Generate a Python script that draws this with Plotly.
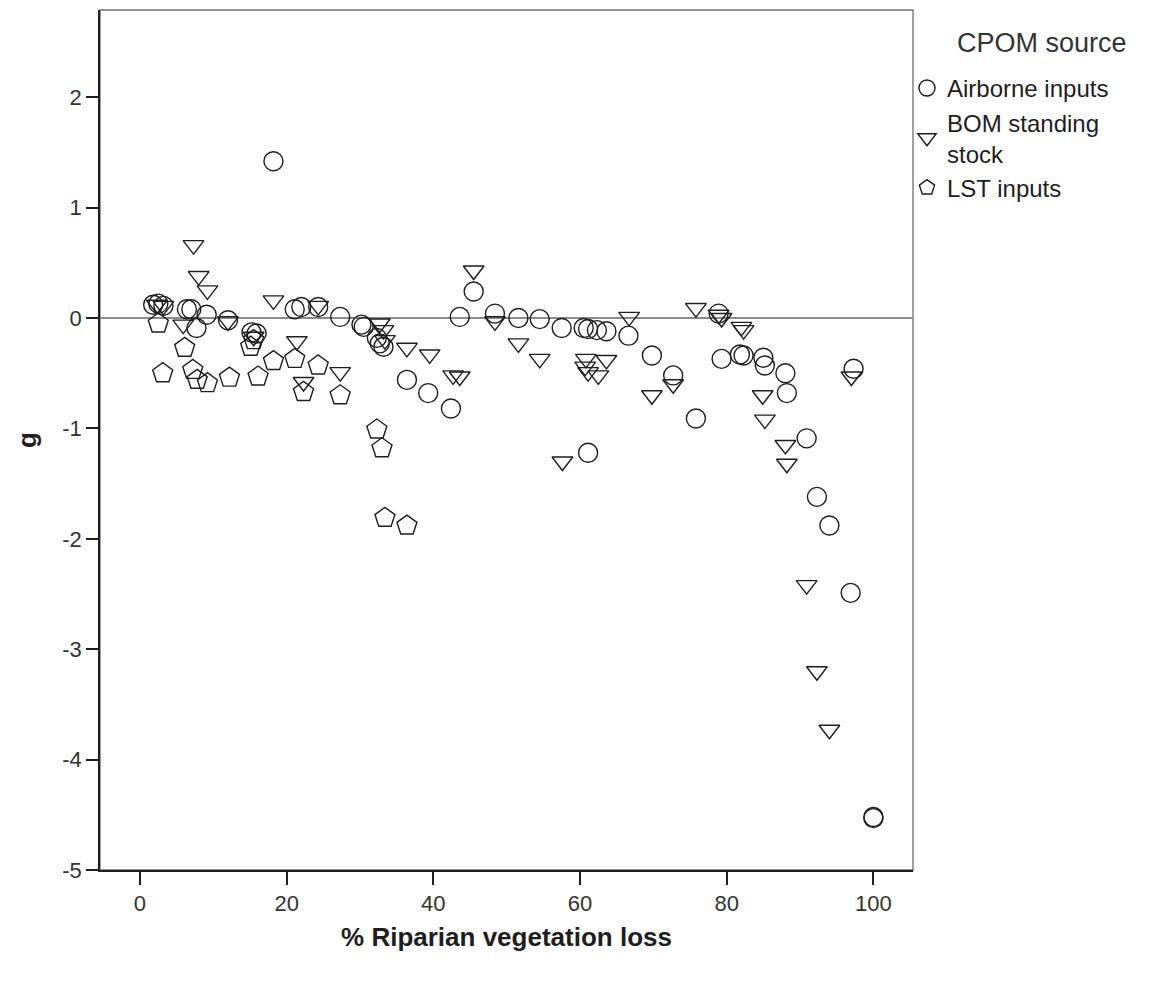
import plotly.graph_objects as go

# ---- data ----
air_x = [1.8, 2.5, 3.2, 6.4, 7.0, 7.7, 9.1, 12.0, 15.2, 15.9, 18.2, 21.1, 22.0, 24.3, 27.3,
         30.2, 30.5, 32.3, 32.7, 33.2, 36.4, 39.3, 42.4, 43.6, 45.5, 48.4, 51.6, 54.5, 57.5,
         60.5, 61.1, 62.3, 63.6, 66.6, 61.1, 69.8, 72.7, 75.8, 78.9, 79.3, 81.8, 82.3, 85.0,
         85.2, 88.0, 88.2, 90.9, 92.3, 94.0, 96.9, 97.3, 100.0, 100.0]
air_y = [0.12, 0.13, 0.11, 0.08, 0.08, -0.09, 0.03, -0.02, -0.13, -0.14, 1.42, 0.08, 0.10, 0.10, 0.01,
         -0.06, -0.08, -0.18, -0.23, -0.26, -0.56, -0.68, -0.82, 0.01, 0.24, 0.04, 0.0, -0.01, -0.09,
         -0.09, -0.10, -0.11, -0.12, -0.16, -1.22, -0.34, -0.52, -0.91, 0.04, -0.37, -0.33, -0.34, -0.36,
         -0.43, -0.50, -0.68, -1.09, -1.62, -1.88, -2.49, -0.46, -4.53, -4.52]

bom_x = [2.3, 3.2, 5.9, 7.3, 8.0, 9.2, 12.0, 15.5, 18.2, 21.4, 22.3, 24.3, 27.3, 32.7, 33.2, 33.4,
         36.4, 39.5, 42.7, 43.6, 45.5, 48.4, 51.6, 54.5, 57.6, 60.8, 60.7, 61.1, 62.5, 63.6, 66.7,
         69.8, 72.7, 75.8, 78.9, 79.3, 82.0, 82.3, 84.9, 85.2, 88.0, 88.2, 90.9, 92.3, 94.0, 97.0]
bom_y = [0.12, 0.11, -0.06, 0.66, 0.38, 0.25, -0.03, -0.17, 0.16, -0.21, -0.58, 0.11, -0.49, -0.05, -0.11, -0.20,
         -0.27, -0.33, -0.52, -0.53, 0.43, -0.03, -0.23, -0.37, -1.30, -0.37, -0.44, -0.49, -0.52, -0.38, 0.01,
         -0.70, -0.60, 0.09, 0.03, 0.0, -0.08, -0.11, -0.70, -0.92, -1.15, -1.32, -2.42, -3.20, -3.73, -0.53]

lst_x = [2.5, 3.1, 6.1, 7.2, 7.8, 9.2, 12.2, 15.1, 15.5, 16.1, 18.2, 21.1, 22.3, 24.3, 27.3,
         32.3, 33.0, 33.4, 36.4]
lst_y = [-0.05, -0.50, -0.27, -0.47, -0.56, -0.59, -0.54, -0.26, -0.20, -0.53, -0.39, -0.37, -0.67, -0.43, -0.70,
         -1.01, -1.18, -1.81, -1.88]

series_names = ["Airborne inputs", "BOM standing<br>stock", "LST inputs"]
legend_title = "CPOM source"
x_ticks = [0, 20, 40, 60, 80, 100]
x_labels = ["0", "20", "40", "60", "80", "100"]
y_ticks = [-5, -4, -3, -2, -1, 0, 1, 2]
y_labels = ["-5", "-4", "-3", "-2", "-1", "0", "1", "2"]

INK = "#1e1e1e"
FONT = "Liberation Sans, Arial, sans-serif"

fig = go.Figure()
fig.add_trace(go.Scatter(x=air_x, y=air_y, mode="markers", name=series_names[0],
                         marker=dict(symbol="circle-open", size=19, color=INK, line=dict(width=1.4))))
fig.add_trace(go.Scatter(x=bom_x, y=bom_y, mode="markers", name=series_names[1],
                         marker=dict(symbol="triangle-down-open", size=18, color=INK, line=dict(width=1.4))))
fig.add_trace(go.Scatter(x=lst_x, y=lst_y, mode="markers", name=series_names[2],
                         marker=dict(symbol="pentagon-open", size=21, color=INK, line=dict(width=1.4))))

fig.add_shape(type="rect", xref="paper", yref="paper", x0=0, x1=1, y0=0, y1=1,
              line=dict(color="#6e6e6e", width=1.3), layer="below")

fig.add_annotation(text=legend_title, xref="paper", yref="paper", x=1.0517, y=0.9616,
                   xanchor="left", yanchor="middle", showarrow=False,
                   font=dict(size=27, color="#333"))

fig.update_layout(
    width=1170, height=981,
    margin=dict(l=92, r=265, t=2, b=119, autoexpand=False),
    paper_bgcolor="white", plot_bgcolor="white",
    font=dict(family=FONT, size=20, color=INK),
    showlegend=True,
    legend=dict(x=0.9926, y=0.935, xanchor="left", yanchor="top",
                font=dict(size=24, color=INK), tracegroupgap=0,
                bgcolor="rgba(0,0,0,0)"),
    xaxis=dict(range=[-5.45, 105.4], tickvals=x_ticks, ticktext=x_labels, ticks="outside", ticklen=13,
               tickwidth=1.5, tickcolor=INK, showline=True, linecolor=INK, linewidth=1.5,
               showgrid=False, zeroline=False,
               tickfont=dict(size=22, color="#333"),
               title=dict(text="<b>% Riparian vegetation loss</b>", font=dict(size=26, color=INK), standoff=13)),
    yaxis=dict(range=[-5, 2.79], tickvals=y_ticks, ticktext=y_labels, ticks="outside", ticklen=12,
               tickwidth=1.5, tickcolor=INK, showline=True, linecolor=INK, linewidth=1.5, showgrid=False,
               zeroline=True, zerolinecolor="#8a8a8a", zerolinewidth=2,
               tickfont=dict(size=22, color="#333"),
               title=dict(text="<b>g</b>", font=dict(size=26, color=INK), standoff=18)),
)

fig.write_html("out.html")
